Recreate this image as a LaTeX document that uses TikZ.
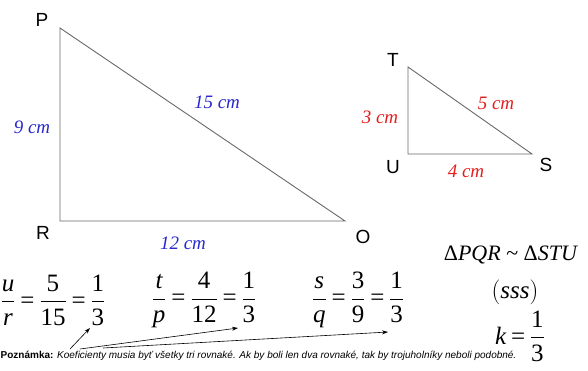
\documentclass[tikz,border=0pt]{standalone}
\usepackage{amsmath}
\usepackage{fontspec}
\setmainfont{Liberation Serif}
\newfontfamily\arialf{Liberation Sans}
\usetikzlibrary{arrows.meta}
\definecolor{lenblue}{RGB}{40,40,205}
\definecolor{lenred}{RGB}{228,30,30}
\definecolor{edgegray}{RGB}{105,105,105}
\newcommand{\myeq}{\mskip3.5mu\mathord{\text{=}}\mskip3.5mu}
\begin{document}
\begin{tikzpicture}[x=1pt,y=-1pt,
  vlabel/.style={font=\arialf\fontsize{19}{19}\selectfont, inner sep=0pt},
  blen/.style={font=\itshape\fontsize{19}{19}\selectfont, text=lenblue, inner sep=0pt},
  rlen/.style={font=\itshape\fontsize{19}{19}\selectfont, text=lenred, inner sep=0pt},
  tri/.style={draw=edgegray, line width=0.9pt, line join=miter},
  eqn/.style={font=\fontsize{25}{28}\selectfont, inner sep=0pt},
  ptr/.style={-{Stealth[length=6pt,width=4pt]}, line width=0.6pt, black},
  note/.style={font=\arialf\itshape\fontsize{10}{12}\selectfont, inner sep=0pt, anchor=base west}]
\useasboundingbox (0,0) rectangle (588,370);
% big triangle
\coordinate (P) at (60,28);
\coordinate (R) at (60,221);
\coordinate (O) at (345,221);
\draw[tri] (P) -- (R) -- (O) -- cycle;
\node[vlabel] (lP) at (42,20) {P};
\node[vlabel] (lR) at (43,233) {R};
\node[vlabel] (lO) at (363,237) {O};
\node[blen] (l9) at (32,127) {9 cm};
\node[blen] (l15) at (217,102) {15 cm};
\node[blen] (l12) at (183,243) {12 cm};
% small triangle
\coordinate (T) at (408,67);
\coordinate (U) at (408,154);
\coordinate (S) at (532,154);
\draw[tri] (T) -- (U) -- (S) -- cycle;
\node[vlabel] (lT) at (393,60) {T};
\node[vlabel] (lU) at (393,167) {U};
\node[vlabel] (lS) at (546,165) {S};
\node[rlen] (l3) at (380,117) {3 cm};
\node[rlen] (l5) at (496,103) {5 cm};
\node[rlen] (l4) at (466,171) {4 cm};
% equations
\node[eqn] (e1) at (53,300) {$\displaystyle\frac{\textit{u}}{\textit{r}}\myeq\frac{\text{5}}{\text{15}}\myeq\frac{\text{1}}{\text{3}}$};
\node[eqn] (e2) at (204,300) {$\displaystyle\frac{\textit{t}}{\textit{p}}\myeq\frac{\text{4}}{\text{12}}\myeq\frac{\text{1}}{\text{3}}$};
\node[eqn] (e3) at (358,300) {$\displaystyle\frac{\textit{s}}{\textit{q}}\myeq\frac{\text{3}}{\text{9}}\myeq\frac{\text{1}}{\text{3}}$};
\node[font=\fontsize{22}{26}\selectfont, inner sep=0pt] (sim) at (511,255) {Δ\textit{PQR} \textasciitilde{} Δ\textit{STU}};
\node[font=\fontsize{25}{28}\selectfont, inner sep=0pt] (sss) at (515,292) {$\left(\text{\itshape sss}\right)$};
\node[eqn] (kk) at (520,336) {$\displaystyle \textit{k}\myeq\frac{\text{1}}{\text{3}}$};
% note
\node[note] (nt) at (0.5,358) {\textbf{\upshape Poznámka:} Koeficienty musia byť všetky tri rovnaké. Ak by boli len dva rovnaké, tak by trojuholníky neboli podobné.};
% arrows
\coordinate (a1s) at (70,349);
\coordinate (a1e) at (90,328);
\coordinate (a2s) at (80,349);
\coordinate (a2e) at (238,328);
\coordinate (a3s) at (103,348);
\coordinate (a3e) at (388,332);
\draw[ptr] (a1s) -- (a1e);
\draw[ptr] (a2s) -- (a2e);
\draw[ptr] (a3s) -- (a3e);
\end{tikzpicture}
\end{document}
